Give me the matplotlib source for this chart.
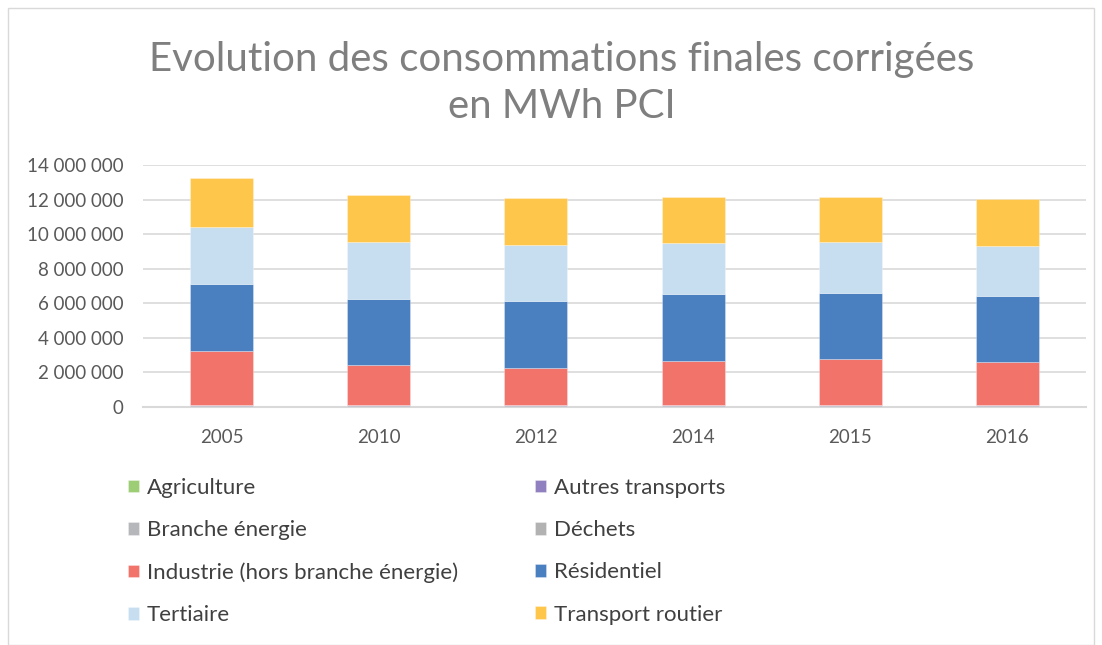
import numpy as np
import matplotlib.pyplot as plt
from matplotlib.patches import Rectangle

plt.rcParams['font.family'] = ['Lato', 'DejaVu Sans']

# Données (MWh PCI)
years = ['2005', '2010', '2012', '2014', '2015', '2016']
sectors = ['Agriculture', 'Autres transports', 'Branche énergie', 'Déchets',
           'Industrie (hors branche énergie)', 'Résidentiel', 'Tertiaire',
           'Transport routier']
agriculture = [30000, 30000, 30000, 30000, 30000, 30000]
autres_transports = [80000, 75000, 75000, 75000, 75000, 75000]
branche_energie = [20000, 20000, 20000, 20000, 20000, 20000]
dechets = [10000, 10000, 10000, 10000, 10000, 10000]
industrie = [3110000, 2315000, 2115000, 2555000, 2615000, 2445000]
residentiel = [3850000, 3770000, 3910000, 3860000, 3870000, 3850000]
tertiaire = [3300000, 3310000, 3240000, 2960000, 2910000, 2910000]
transport_routier = [2870000, 2720000, 2700000, 2660000, 2640000, 2700000]

series = [agriculture, autres_transports, branche_energie, dechets,
          industrie, residentiel, tertiaire, transport_routier]
colors = ['#9DCE76', '#9180C0', '#B5B7BB', '#B2B2B2',
          '#F1736A', '#4A7FC0', '#C7DDF0', '#FEC64A']

fig = plt.figure(figsize=(11.02, 6.45), dpi=100)
ax = fig.add_axes([143 / 1102, 1 - 407 / 645, (1086 - 143) / 1102, 242 / 645])

x = np.arange(len(years))
bottom = np.zeros(len(years))
handles = []
for name, vals, col in zip(sectors, series, colors):
    b = ax.bar(x, vals, width=0.4, bottom=bottom, color=col, label=name,
               edgecolor=(1, 1, 1, 0.35), linewidth=0.6, zorder=3)
    bottom += np.array(vals)
    handles.append(b)

ax.set_xlim(-0.5, len(years) - 0.5)
ax.set_ylim(0, 14000000)
ax.set_yticks(np.arange(0, 14000001, 2000000))
ax.yaxis.set_major_formatter(plt.FuncFormatter(
    lambda v, p: '{:,.0f}'.format(v).replace(',', ' ')))
ax.set_xticks(x)
ax.set_xticklabels(years)
ax.grid(axis='y', color='#D9D9D9', linewidth=1.2, zorder=0)
for s in ['top', 'right', 'left']:
    ax.spines[s].set_visible(False)
ax.spines['bottom'].set_color('#D9D9D9')
ax.spines['bottom'].set_linewidth(1.5)
ax.tick_params(axis='both', length=0, labelsize=13.5, colors='#595959')
ax.tick_params(axis='x', pad=16)
ax.tick_params(axis='y', pad=14)

fig.text(0.51, 1 - 83 / 645, 'Evolution des consommations finales corrigées\nen MWh PCI',
         ha='center', va='center', fontsize=29, color='#7F7F7F', linespacing=1.33)

# légende sur deux colonnes, remplie ligne par ligne
order = [0, 2, 4, 6, 1, 3, 5, 7]
leg = fig.legend([handles[i] for i in order], [sectors[i] for i in order],
                 ncol=2, loc='upper left', bbox_to_anchor=(108 / 1102, 1 - 458 / 645),
                 frameon=False, fontsize=16, labelcolor='#404040',
                 handlelength=0.5, handleheight=0.5, handletextpad=0.35,
                 labelspacing=1.0, columnspacing=3.47)

# cadre du graphique
fig.patches.append(Rectangle((8 / 1102, 0), 1 - 16 / 1102, 1 - 8 / 645,
                             transform=fig.transFigure, fill=False,
                             edgecolor='#D9D9D9', linewidth=1))

fig.savefig('out.png', dpi=100)
